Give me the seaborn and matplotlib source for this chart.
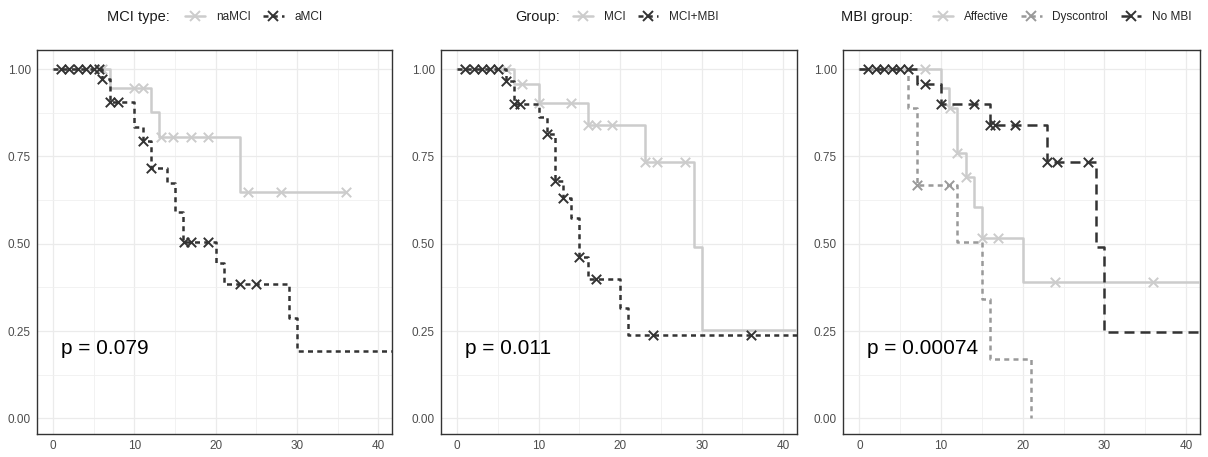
import numpy as np
import matplotlib
matplotlib.use("Agg")
import matplotlib.pyplot as plt
from matplotlib.lines import Line2D
import seaborn as sns

# ---------------- data ----------------
# Panel 1 : MCI type
p1_title = "MCI type:"
p1_labels = ["naMCI", "aMCI"]
p1_pval = "p = 0.079"
naMCI_t = [0, 7, 12, 13, 23, 36]
naMCI_s = [1.0, 0.945, 0.878, 0.807, 0.647, 0.647]
naMCI_c = [6, 10, 11, 13.3, 14.8, 17, 19, 24, 28, 36]
aMCI_t = [0, 6, 7, 10, 11, 12, 14, 15, 16, 20, 21, 29, 30, 44]
aMCI_s = [1.0, 0.971, 0.905, 0.835, 0.795, 0.718, 0.675, 0.592, 0.505, 0.446, 0.384, 0.287, 0.193, 0.193]
aMCI_c = [1, 2, 3, 4, 5, 5.6, 6, 7, 8, 11.1, 12, 16.1, 17, 19, 23, 25]

# Panel 2 : Group
p2_title = "Group:"
p2_labels = ["MCI", "MCI+MBI"]
p2_pval = "p = 0.011"
MCI_t = [0, 7, 10, 16, 23, 29, 30, 44]
MCI_s = [1.0, 0.957, 0.904, 0.84, 0.735, 0.49, 0.252, 0.252]
MCI_c = [1, 6, 8, 10, 14, 16, 17, 19, 23, 24.5, 28]
MBI_t = [0, 6, 7, 10, 11, 12, 13, 14, 15, 16, 20, 21, 44]
MBI_s = [1.0, 0.966, 0.9, 0.862, 0.814, 0.68, 0.632, 0.575, 0.463, 0.398, 0.315, 0.239, 0.239]
MBI_c = [1, 2, 3, 4, 5, 6, 7, 7.7, 11, 12, 13, 15, 17, 24, 36]

# Panel 3 : MBI group
p3_title = "MBI group:"
p3_labels = ["Affective", "Dyscontrol", "No MBI"]
p3_pval = "p = 0.00074"
aff_t = [0, 10, 11, 12, 13, 14, 15, 20, 44]
aff_s = [1.0, 0.945, 0.888, 0.76, 0.69, 0.604, 0.517, 0.39, 0.39]
aff_c = [8, 11.1, 12, 13, 15, 17, 24, 36]
dys_t = [0, 6, 7, 12, 15, 16, 21]
dys_s = [1.0, 0.89, 0.667, 0.505, 0.341, 0.171, 0.0]
dys_c = [7, 11]
nombi_t = [0, 7, 10, 16, 23, 29, 30, 44]
nombi_s = [1.0, 0.957, 0.9, 0.84, 0.735, 0.49, 0.248, 0.248]
nombi_c = [1, 2, 3, 4, 5, 6, 8, 10, 14, 16, 16.6, 19, 23, 24.2, 28]

x_ticks = [0, 10, 20, 30, 40]
y_ticks = [0.0, 0.25, 0.5, 0.75, 1.0]

# ---------------- style ----------------
sns.set_style("white")
plt.rcParams["font.family"] = ["Liberation Sans", "DejaVu Sans"]

LIGHT = "#CCCCCC"
MID = "#999999"
DARK = "#333333"
LW = 1.8
SOLID = "-"
DOTTED = (0, (2.0, 1.7))
DASHED = (0, (4.0, 2.4))

W, H = 1208, 457
fig = plt.figure(figsize=(W / 100, H / 100), dpi=100)


def fx(px):
    return px / W


def fy(py):
    return 1 - py / H


panels = [
    dict(left=37, right=392, title=p1_title, pval=p1_pval,
         series=[(naMCI_t, naMCI_s, naMCI_c, LIGHT, SOLID, p1_labels[0]),
                 (aMCI_t, aMCI_s, aMCI_c, DARK, DOTTED, p1_labels[1])],
         title_x=107, key_x=185),
    dict(left=441, right=797, title=p2_title, pval=p2_pval,
         series=[(MCI_t, MCI_s, MCI_c, LIGHT, SOLID, p2_labels[0]),
                 (MBI_t, MBI_s, MBI_c, DARK, DOTTED, p2_labels[1])],
         title_x=515, key_x=573),
    dict(left=843, right=1200, title=p3_title, pval=p3_pval,
         series=[(aff_t, aff_s, aff_c, LIGHT, SOLID, p3_labels[0]),
                 (dys_t, dys_s, dys_c, MID, DOTTED, p3_labels[1]),
                 (nombi_t, nombi_s, nombi_c, DARK, DASHED, p3_labels[2])],
         title_x=841, key_x=933),
]

top_px, bot_px = 50, 434

for pnl in panels:
    ax = fig.add_axes([fx(pnl["left"]), fy(bot_px),
                       fx(pnl["right"] - pnl["left"]), (bot_px - top_px) / H])
    handles = []
    labels = []
    for z, (t, s, c, col, ls, lab) in enumerate(pnl["series"]):
        t = np.asarray(t, float)
        s = np.asarray(s, float)
        sns.lineplot(x=t, y=s, ax=ax, drawstyle="steps-post", color=col,
                     linewidth=LW, linestyle=ls, estimator=None, sort=False,
                     zorder=3 + z)
        c = np.asarray(c, float)
        idx = np.searchsorted(t, c, side="right") - 1
        cy = s[idx]
        sns.scatterplot(x=c, y=cy, ax=ax, marker="x", s=46, color=col,
                        linewidth=1.4, zorder=3.5 + z)
        handles.append(Line2D([], [], color=col, lw=LW, linestyle=ls,
                              marker="x", markersize=6.5, mew=1.4))
        labels.append(lab)

    ax.set_xlim(-2, 41.7)
    ax.set_ylim(-0.045, 1.055)
    ax.set_xticks(x_ticks)
    ax.set_xticks([5, 15, 25, 35], minor=True)
    ax.set_yticks(y_ticks)
    ax.set_yticks([0.125, 0.375, 0.625, 0.875], minor=True)
    ax.set_yticklabels([f"{v:.2f}" for v in y_ticks])
    ax.grid(which="major", color="#EBEBEB", lw=0.9)
    ax.grid(which="minor", color="#F0F0F0", lw=0.6)
    ax.set_axisbelow(True)
    ax.tick_params(which="major", length=2.5, width=0.8, color="#333333",
                   labelcolor="#4D4D4D", labelsize=8.5, pad=2)
    ax.tick_params(which="minor", length=0)
    for sp in ax.spines.values():
        sp.set_color("#333333")
        sp.set_linewidth(1.0)
    ax.set_xlabel("")
    ax.set_ylabel("")
    ax.text(0.9, 0.2, pnl["pval"], ha="left", va="center", fontsize=15,
            color="black", zorder=10)

    fig.text(fx(pnl["title_x"]), fy(17), pnl["title"], ha="left", va="center",
             fontsize=10.5, color="#1A1A1A")
    fig.legend(handles, labels, loc="center left",
               bbox_to_anchor=(fx(pnl["key_x"]), fy(17)),
               ncol=len(labels), frameon=False, fontsize=8.5,
               handlelength=1.7, handletextpad=0.9, columnspacing=1.1,
               borderpad=0, borderaxespad=0)

fig.savefig("out.png", dpi=100)
